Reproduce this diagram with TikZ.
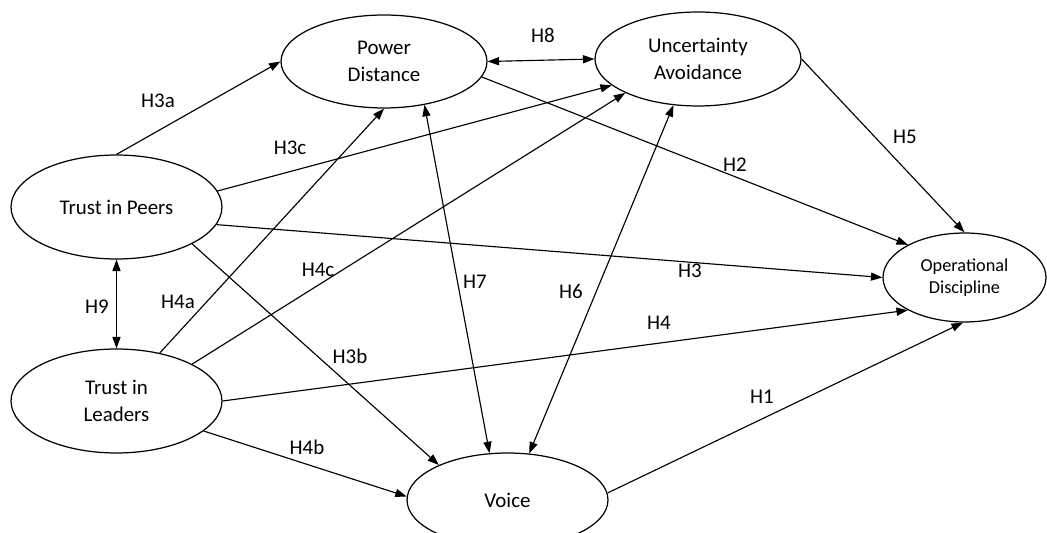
\documentclass[tikz,border=0pt]{standalone}
\usepackage{fontspec}
\setmainfont{Carlito}
\usetikzlibrary{arrows.meta,shapes.geometric}

\begin{document}
\begin{tikzpicture}[x=0.02cm,y=-0.02cm,
    construct/.style={draw,ellipse,line width=0.7pt,inner sep=0pt,align=center,
        font=\fontsize{11.9}{15}\selectfont},
    hyp/.style={line width=0.65pt,-{Triangle[length=6.5pt,width=4.6pt]}},
    twoway/.style={line width=0.65pt,{Triangle[length=6.5pt,width=4.6pt]}-{Triangle[length=6.5pt,width=4.6pt]}},
    hlabel/.style={inner sep=0pt,font=\fontsize{11.9}{14}\selectfont}]
    \useasboundingbox (0,0) rectangle (1047,533);
    \clip (0,0) rectangle (1047,533);

    % constructs
    \node[construct,minimum width=4.12cm,minimum height=1.86cm] (pd) at (384,61.5) {Power\\Distance};
    \node[construct,minimum width=4.12cm,minimum height=1.88cm] (ua) at (698,59) {Uncertainty\\Avoidance};
    \node[construct,minimum width=4.22cm,minimum height=2.08cm] (peers) at (116.5,207) {Trust in Peers};
    \node[construct,minimum width=4.22cm,minimum height=2.08cm] (leaders) at (116.5,401) {Trust in\\Leaders};
    \node[construct,minimum width=3.26cm,minimum height=1.78cm,
        font=\fontsize{10.4}{12.3}\selectfont] (od) at (964.5,277.5) {Operational\\Discipline};
    \node[construct,minimum width=4.02cm,minimum height=1.88cm] (voice) at (507.5,500) {Voice};

    % hypotheses
    \draw[hyp] (peers.north) -- (pd.west);
    \draw[hyp] (peers.9) -- (ua.197.5);
    \draw[hyp] (peers.350) -- (od.west);
    \draw[hyp] (peers.334) -- (voice.153);
    \draw[hyp] (leaders.48) -- (pd.south);
    \draw[hyp] (leaders.26) -- (ua.205);
    \draw[hyp] (leaders.east) -- (od.210);
    \draw[hyp] (leaders.341) -- (voice.178);
    \draw[hyp] (voice.4.5) -- (od.268);
    \draw[hyp] (pd.351) -- (od.150);
    \draw[hyp] (ua.east) -- (od.north);
    \draw[twoway] (ua.242) -- (voice.65);
    \draw[twoway] (pd.313) -- (voice.111.5);
    \draw[twoway] (pd.east) -- (ua.west);
    \draw[twoway] (peers.south) -- (leaders.north);

    \node[hlabel] (l1) at (762,397) {H1};
    \node[hlabel] (l2) at (735,165) {H2};
    \node[hlabel] (l3) at (690,271) {H3};
    \node[hlabel] (l3a) at (158,101) {H3a};
    \node[hlabel] (l3b) at (350,356) {H3b};
    \node[hlabel] (l3c) at (290,148) {H3c};
    \node[hlabel] (l4) at (659,323) {H4};
    \node[hlabel] (l4a) at (178,302) {H4a};
    \node[hlabel] (l4b) at (307,447) {H4b};
    \node[hlabel] (l4c) at (318,270) {H4c};
    \node[hlabel] (l5) at (905,137) {H5};
    \node[hlabel] (l6) at (571,292) {H6};
    \node[hlabel] (l7) at (475,282) {H7};
    \node[hlabel] (l8) at (543,35) {H8};
    \node[hlabel] (l9) at (97,307) {H9};
\end{tikzpicture}
\end{document}
